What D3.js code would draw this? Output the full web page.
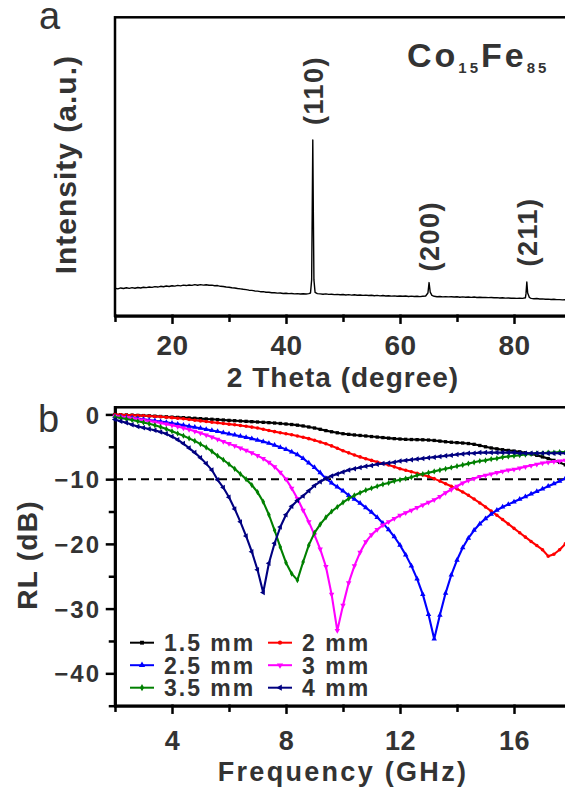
<!DOCTYPE html>
<html>
<head>
<meta charset="utf-8">
<title>CoFe XRD and RL</title>
<script src="https://cdn.jsdelivr.net/npm/d3@7"></script>
<style>
  body { margin: 0; background: #fff; }
  svg text { font-family: "Liberation Sans", Arial, sans-serif; font-weight: bold; fill: #333; }
  .axis path, .axis line { stroke: #000; stroke-width: 2.5; stroke-linecap: square; }
</style>
</head>
<body>
<script>
// ---- panel a: XRD pattern, [2theta, intensity a.u.]
var xrdPattern = [
  [10.0,9.2],[10.5,9.0],[11.0,9.3],[11.5,9.1],[12.0,9.35],[12.5,9.15],[13.0,9.4],[13.5,9.2],[14.0,9.45],[14.5,9.3],
  [15.0,9.55],[15.5,9.4],[16.0,9.6],[16.5,9.5],[17.0,9.75],[17.5,9.6],[18.0,9.85],[18.5,9.7],[19.0,9.95],[19.5,9.8],
  [20.0,10.05],[20.5,9.9],[21.0,10.15],[21.5,10.0],[22.0,10.25],[22.5,10.1],[23.0,10.3],[23.5,10.15],[24.0,10.4],[24.5,10.2],
  [25.0,10.4],[25.5,10.25],[26.0,10.35],[26.5,10.2],[27.0,10.25],[27.5,10.05],[28.0,10.1],[28.5,9.85],[29.0,9.8],[29.5,9.6],
  [30.0,9.55],[30.5,9.35],[31.0,9.3],[31.5,9.1],[32.0,9.0],[32.5,8.85],[33.0,8.75],[33.5,8.55],[34.0,8.5],[34.5,8.3],
  [35.0,8.25],[35.5,8.05],[36.0,8.05],[36.5,7.85],[37.0,7.85],[37.5,7.7],[38.0,7.7],[38.5,7.55],[39.0,7.6],[39.5,7.45],
  [40.0,7.5],[40.5,7.4],[41.0,7.45],[41.5,7.3],[42.0,7.4],[42.5,7.25],[43.0,7.35],[43.5,7.25],[44.0,7.4],[44.3,7.6],
  [44.5,12.0],[44.6,35.0],[44.7,58.9],[44.8,34.0],[44.9,12.0],[45.1,7.8],[45.5,7.4],[46.0,7.3],[46.5,7.2],[47.0,7.3],
  [47.5,7.15],[48.0,7.2],[48.5,7.05],[49.0,7.15],[49.5,7.0],[50.0,7.1],[50.5,6.95],[51.0,7.05],[51.5,6.9],[52.0,7.0],
  [52.5,6.85],[53.0,6.95],[53.5,6.8],[54.0,6.9],[54.5,6.75],[55.0,6.85],[55.5,6.7],[56.0,6.8],[56.5,6.65],[57.0,6.75],
  [57.5,6.6],[58.0,6.7],[58.5,6.55],[59.0,6.65],[59.5,6.5],[60.0,6.6],[60.5,6.5],[61.0,6.6],[61.5,6.45],[62.0,6.55],
  [62.5,6.45],[63.0,6.5],[63.5,6.4],[64.0,6.5],[64.5,6.6],[64.9,7.6],[65.1,11.1],[65.3,7.9],[65.6,6.8],[66.0,6.5],
  [66.5,6.35],[67.0,6.45],[67.5,6.3],[68.0,6.4],[68.5,6.3],[69.0,6.35],[69.5,6.25],[70.0,6.35],[70.5,6.2],[71.0,6.3],
  [71.5,6.2],[72.0,6.25],[72.5,6.15],[73.0,6.25],[73.5,6.1],[74.0,6.2],[74.5,6.1],[75.0,6.15],[75.5,6.05],[76.0,6.1],
  [76.5,6.0],[77.0,6.05],[77.5,5.95],[78.0,6.0],[78.5,5.9],[79.0,5.95],[79.5,5.85],[80.0,5.9],[80.5,5.8],[81.0,5.85],
  [81.5,5.8],[82.0,6.0],[82.1,7.3],[82.25,11.3],[82.4,7.6],[82.7,6.1],[83.0,5.8],[83.5,5.7],[84.0,5.75],[84.5,5.6],
  [85.0,5.65],[85.5,5.5],[86.0,5.55],[86.5,5.45],[87.0,5.5],[87.5,5.4],[88.0,5.4],[88.5,5.3],[89.0,5.35],[89.5,5.25],[90.0,5.3]
];
var peakLabels = [["(110)",44.7,63.9],["(200)",65.1,14.8],["(211)",82.25,16.5]];
var xrdTicks = [20,40,60,80];
var xrdMinor = [10,30,50,70,90];

// ---- panel b: reflection loss (dB) vs frequency (GHz)
var freq = [
  2.0,2.2,2.4,2.6,2.8,3.0,3.2,3.4,3.6,3.8,
  4.0,4.2,4.4,4.6,4.8,5.0,5.2,5.4,5.6,5.8,
  6.0,6.2,6.4,6.6,6.8,7.0,7.2,7.4,7.6,7.8,
  8.0,8.2,8.4,8.6,8.8,9.0,9.2,9.4,9.6,9.8,
  10.0,10.2,10.4,10.6,10.8,11.0,11.2,11.4,11.6,11.8,
  12.0,12.2,12.4,12.6,12.8,13.0,13.2,13.4,13.6,13.8,
  14.0,14.2,14.4,14.6,14.8,15.0,15.2,15.4,15.6,15.8,
  16.0,16.2,16.4,16.6,16.8,17.0,17.2,17.4,17.6,17.8,
  18.0
];
var rl15 = [
  -0.02,-0.05,-0.08,-0.11,-0.15,-0.18,-0.22,-0.27,-0.32,-0.37,
  -0.42,-0.46,-0.5,-0.55,-0.6,-0.65,-0.7,-0.75,-0.8,-0.86,
  -0.92,-0.97,-1.02,-1.07,-1.12,-1.17,-1.22,-1.27,-1.33,-1.4,
  -1.48,-1.56,-1.66,-1.78,-1.94,-2.1,-2.3,-2.5,-2.68,-2.84,
  -2.98,-3.08,-3.17,-3.25,-3.33,-3.42,-3.5,-3.58,-3.66,-3.74,
  -3.8,-3.85,-3.88,-3.9,-3.92,-3.96,-4.02,-4.12,-4.22,-4.3,
  -4.36,-4.42,-4.5,-4.62,-4.8,-5.0,-5.18,-5.32,-5.45,-5.56,
  -5.66,-5.78,-5.92,-6.1,-6.32,-6.56,-6.82,-7.1,-7.42,-7.8,
  -8.2
];
var rl20 = [
  -0.02,-0.05,-0.08,-0.12,-0.16,-0.2,-0.25,-0.31,-0.37,-0.44,
  -0.5,-0.59,-0.68,-0.78,-0.89,-1.0,-1.1,-1.2,-1.3,-1.4,
  -1.5,-1.6,-1.72,-1.84,-1.96,-2.1,-2.28,-2.48,-2.66,-2.83,
  -3.0,-3.15,-3.32,-3.52,-3.74,-4.0,-4.26,-4.54,-4.86,-5.22,
  -5.6,-5.94,-6.26,-6.56,-6.84,-7.1,-7.34,-7.58,-7.82,-8.1,
  -8.38,-8.62,-8.86,-9.1,-9.34,-9.6,-9.92,-10.3,-10.7,-11.1,
  -11.5,-11.98,-12.5,-13.08,-13.68,-14.3,-14.94,-15.58,-16.24,-16.92,
  -17.6,-18.28,-18.96,-19.62,-20.26,-20.9,-21.9,-21.6,-20.9,-20.0,
  -19.0
];
var rl25 = [
  -0.3,-0.38,-0.46,-0.55,-0.65,-0.76,-0.87,-0.98,-1.1,-1.23,
  -1.36,-1.5,-1.66,-1.82,-1.98,-2.14,-2.3,-2.47,-2.64,-2.82,
  -3.0,-3.18,-3.36,-3.54,-3.74,-3.96,-4.2,-4.46,-4.76,-5.08,
  -5.4,-5.78,-6.2,-6.8,-7.5,-8.2,-9.0,-9.9,-10.6,-11.2,
  -11.8,-12.5,-13.1,-13.7,-14.4,-15.1,-15.9,-16.8,-17.8,-18.9,
  -20.2,-21.7,-23.4,-25.4,-27.8,-30.9,-34.7,-31.0,-27.6,-24.8,
  -22.5,-20.6,-19.1,-17.9,-16.9,-16.1,-15.4,-14.8,-14.3,-13.9,
  -13.5,-13.1,-12.7,-12.3,-11.9,-11.5,-11.1,-10.7,-10.3,-9.9,
  -9.5
];
var rl30 = [
  -0.3,-0.4,-0.5,-0.62,-0.75,-0.88,-1.02,-1.17,-1.33,-1.5,
  -1.68,-1.88,-2.1,-2.34,-2.6,-2.88,-3.18,-3.5,-3.84,-4.18,
  -4.52,-4.86,-5.2,-5.56,-5.94,-6.36,-6.84,-7.4,-8.1,-8.96,
  -10.0,-11.4,-13.0,-14.8,-16.6,-18.6,-20.8,-23.5,-27.8,-33.4,
  -29.5,-26.0,-23.4,-21.3,-19.7,-18.6,-17.8,-17.1,-16.6,-16.1,
  -15.6,-15.2,-14.8,-14.4,-14.0,-13.6,-13.2,-12.7,-12.1,-11.6,
  -11.1,-10.6,-10.2,-9.9,-9.6,-9.4,-9.2,-9.0,-8.8,-8.6,
  -8.5,-8.3,-8.1,-7.9,-7.7,-7.5,-7.4,-7.3,-7.2,-7.1,
  -6.9
];
var rl35 = [
  -0.4,-0.55,-0.7,-0.86,-1.05,-1.25,-1.45,-1.68,-1.94,-2.25,
  -2.6,-2.95,-3.3,-3.7,-4.1,-4.6,-5.1,-5.7,-6.4,-7.0,
  -7.7,-8.4,-9.2,-10.0,-10.9,-12.0,-13.5,-15.5,-17.9,-20.5,
  -22.9,-24.6,-25.6,-22.8,-20.2,-18.3,-17.0,-15.9,-15.0,-14.3,
  -13.6,-13.0,-12.5,-12.1,-11.7,-11.4,-11.1,-10.8,-10.6,-10.3,
  -10.1,-9.9,-9.7,-9.4,-9.2,-9.0,-8.8,-8.6,-8.4,-8.2,
  -8.0,-7.8,-7.6,-7.4,-7.2,-7.1,-6.9,-6.8,-6.6,-6.5,
  -6.4,-6.3,-6.2,-6.1,-6.0,-6.0,-5.9,-5.9,-5.8,-5.8,
  -5.8
];
var rl40 = [
  -0.8,-1.05,-1.3,-1.6,-1.85,-2.05,-2.25,-2.45,-2.7,-3.0,
  -3.4,-3.9,-4.5,-5.2,-5.9,-6.7,-7.6,-8.6,-10.1,-11.3,
  -12.8,-14.6,-16.6,-18.8,-21.2,-24.0,-27.5,-23.0,-19.9,-17.4,
  -15.5,-14.2,-13.3,-12.6,-11.8,-11.0,-10.4,-9.9,-9.5,-9.2,
  -8.9,-8.6,-8.4,-8.2,-8.0,-7.9,-7.7,-7.6,-7.5,-7.4,
  -7.2,-7.1,-7.0,-6.9,-6.8,-6.7,-6.6,-6.5,-6.4,-6.3,
  -6.2,-6.1,-6.0,-6.0,-5.9,-5.9,-5.9,-5.9,-5.9,-5.9,
  -5.9,-6.0,-6.0,-6.0,-6.0,-6.0,-6.0,-6.0,-6.0,-6.0,
  -6.0
];
var thicknesses = ["1.5 mm","2 mm","2.5 mm","3 mm","3.5 mm","4 mm"];
var seriesRL = [rl15, rl20, rl25, rl30, rl35, rl40];
var seriesColors = ["#000000","#ff0000","#0000ff","#ff00ff","#008000","#000080"];
// symbol type + rotation (Origin order: square, circle, up, down, diamond, left)
var seriesSymbols = [[d3.symbolSquare,0],[d3.symbolCircle,0],[d3.symbolTriangle,0],[d3.symbolTriangle,180],[d3.symbolDiamond,0],[d3.symbolTriangle,-90]];
var symbolSizes = [11, 10, 13, 13, 11, 13];
var rlTicks = [0,-10,-20,-30,-40];
var rlMinor = [-5,-15,-25,-35,-45];
var freqTicks = [4,8,12,16];
var freqMinor = [2,6,10,14,18];

var width = 565, height = 794;
var svg = d3.select("body").append("svg").attr("width", width).attr("height", height);

// ================= panel a =================
var xA = d3.scaleLinear().domain([10,90]).range([115,571]);
var yA = d3.scaleLinear().domain([0,100]).range([315.7,17.3]);

svg.append("rect").attr("x",115).attr("y",17.3).attr("width",456).attr("height",298.4)
   .attr("fill","none").attr("stroke","#000").attr("stroke-width",2.5);

var gAx = svg.append("g").attr("class","axis").attr("transform","translate(0,315.7)")
   .call(d3.axisBottom(xA).tickValues(xrdTicks).tickSize(7).tickSizeOuter(0).tickFormat(d3.format("d")));
gAx.selectAll("text").attr("y",0).attr("dy",39.3).style("font-size","28px").style("letter-spacing","0.5px");
svg.append("g").attr("class","axis").attr("transform","translate(0,315.7)")
   .call(d3.axisBottom(xA).tickValues(xrdMinor).tickSize(5).tickSizeOuter(0).tickFormat(""));

var xrdLine = d3.line().x(function(d){return xA(d[0])}).y(function(d){return yA(d[1])});
svg.append("path").datum(xrdPattern).attr("d",xrdLine)
   .attr("fill","none").attr("stroke","#000").attr("stroke-width",1.4).attr("stroke-linejoin","round");

svg.selectAll(".peak").data(peakLabels).enter().append("text").attr("class","peak")
   .attr("transform",function(d){return "translate("+xA(d[1])+","+yA(d[2])+") rotate(-90)"})
   .attr("dy","0.36em").style("font-size","27px").style("letter-spacing","1.5px")
   .text(function(d){return d[0]});

var comp = svg.append("text").attr("x",407).attr("y",66.7).style("font-size","34px").style("letter-spacing","3px");
comp.append("tspan").text("Co");
comp.append("tspan").attr("dy",6).style("font-size","15px").text("15");
comp.append("tspan").attr("dy",-6).text("Fe");
comp.append("tspan").attr("dy",6).style("font-size","15px").text("85");

svg.append("text").attr("transform","translate(76,164.7) rotate(-90)").attr("text-anchor","middle")
   .style("font-size","30px").style("letter-spacing","1px").text("Intensity (a.u.)");
svg.append("text").attr("x",343).attr("y",386.7).attr("text-anchor","middle")
   .style("font-size","28px").style("letter-spacing","1px").text("2 Theta (degree)");
svg.append("text").attr("x",39).attr("y",29.3).style("font-size","38px").style("font-weight","normal").text("a");

// ================= panel b =================
var xB = d3.scaleLinear().domain([2,18]).range([115,571]);
var yB = d3.scaleLinear().domain([-45,1.1]).range([705.7,407.3]);

svg.append("rect").attr("x",115).attr("y",407.3).attr("width",456).attr("height",298.4)
   .attr("fill","none").attr("stroke","#000").attr("stroke-width",2.5);

var gBx = svg.append("g").attr("class","axis").attr("transform","translate(0,705.7)")
   .call(d3.axisBottom(xB).tickValues(freqTicks).tickSize(7).tickSizeOuter(0));
gBx.selectAll("text").attr("y",0).attr("dy",44).style("font-size","27px").style("letter-spacing","0.5px");
svg.append("g").attr("class","axis").attr("transform","translate(0,705.7)")
   .call(d3.axisBottom(xB).tickValues(freqMinor).tickSize(5).tickSizeOuter(0).tickFormat(""));

var gBy = svg.append("g").attr("class","axis").attr("transform","translate(115,0)")
   .call(d3.axisLeft(yB).tickValues(rlTicks).tickSize(8).tickSizeOuter(0));
gBy.selectAll("text").attr("x",-14).attr("dy","0.36em").style("font-size","24px").style("letter-spacing","2px");
svg.append("g").attr("class","axis").attr("transform","translate(115,0)")
   .call(d3.axisLeft(yB).tickValues(rlMinor).tickSize(5).tickSizeOuter(0).tickFormat(""));

svg.append("line").attr("x1",xB(2)).attr("x2",xB(18)).attr("y1",yB(-10)).attr("y2",yB(-10))
   .attr("stroke","#000").attr("stroke-width",2).attr("stroke-dasharray","8,5");

var rlLine = d3.line().x(function(d){return xB(d[0])}).y(function(d){return yB(d[1])});
seriesRL.forEach(function(vals, k){
  var pts = freq.map(function(f,i){return [f, vals[i]]});
  var g = svg.append("g");
  g.append("path").datum(pts).attr("d",rlLine)
   .attr("fill","none").attr("stroke",seriesColors[k]).attr("stroke-width",2.1).attr("stroke-linejoin","round");
  var sym = d3.symbol().type(seriesSymbols[k][0]).size(symbolSizes[k]);
  g.selectAll("path.m").data(pts).enter().append("path").attr("class","m")
   .attr("d",sym)
   .attr("transform",function(d){return "translate("+xB(d[0])+","+yB(d[1])+") rotate("+seriesSymbols[k][1]+")"})
   .attr("fill",seriesColors[k]);
});

// legend
var legCols = [130,268], legRows = [642.7,665.2,687.7];
thicknesses.forEach(function(t,k){
  var x0 = legCols[k%2], y0 = legRows[Math.floor(k/2)];
  var g = svg.append("g");
  g.append("line").attr("x1",x0).attr("x2",x0+24).attr("y1",y0).attr("y2",y0)
   .attr("stroke",seriesColors[k]).attr("stroke-width",2);
  g.append("path").attr("d",d3.symbol().type(seriesSymbols[k][0]).size(symbolSizes[k]+4))
   .attr("transform","translate("+(x0+12)+","+y0+") rotate("+seriesSymbols[k][1]+")")
   .attr("fill",seriesColors[k]);
  g.append("text").attr("x",x0+34).attr("y",y0+8.6)
   .style("font-size","23px").style("letter-spacing","2px").text(t);
});

svg.append("text").attr("transform","translate(37,555) rotate(-90)").attr("text-anchor","middle")
   .style("font-size","28px").style("letter-spacing","1.3px").text("RL (dB)");
svg.append("text").attr("x",343).attr("y",780.7).attr("text-anchor","middle")
   .style("font-size","27px").style("letter-spacing","2.3px").text("Frequency (GHz)");
svg.append("text").attr("x",38).attr("y",432).style("font-size","38px").style("font-weight","normal").text("b");
</script>
</body>
</html>
